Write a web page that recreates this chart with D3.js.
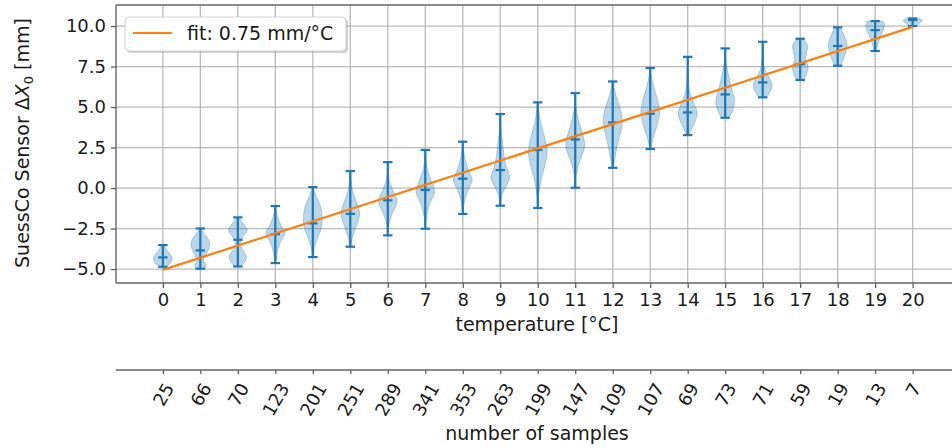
<!DOCTYPE html>
<html>
<head>
<meta charset="utf-8">
<script src="https://cdn.jsdelivr.net/npm/d3@7"></script>
<style>
  body { margin: 0; background: #fff; }
  text { font-family: "DejaVu Sans", sans-serif; fill: #1a1a1a; }
</style>
</head>
<body>
<svg id="chart"></svg>
<script>
// temperatures (x positions) and number of samples per temperature
var temps = [0,1,2,3,4,5,6,7,8,9,10,11,12,13,14,15,16,17,18,19,20];
var sampleCounts = [25,66,70,123,201,251,289,341,353,263,199,147,109,107,69,73,71,59,19,13,7];

// violin extremes and medians (mm)
var minVals = [-4.86,-4.98,-4.84,-4.63,-4.26,-3.62,-2.92,-2.51,-1.60,-1.09,-1.23,0.02,1.25,2.41,3.27,4.34,5.60,6.67,7.55,8.46,10.00];
var maxVals = [-3.52,-2.49,-1.81,-1.11,0.06,1.05,1.60,2.35,2.86,4.57,5.29,5.86,6.58,7.41,8.10,8.62,9.03,9.22,9.92,10.31,10.47];
var medVals = [-4.28,-3.85,-3.19,-2.84,-2.18,-1.59,-0.76,-0.12,0.58,1.11,2.35,3.00,4.05,4.59,4.67,5.78,6.52,7.65,8.77,9.75,10.37];

// relative density profile of each violin: [value, density 0..1]
var profiles = [
  [[-4.86,0.3],[-4.7,0.7],[-4.4,1],[-4.1,0.8],[-3.8,0.4],[-3.52,0.1]],
  [[-4.98,0.5],[-4.75,0.6],[-4.45,0.35],[-4.0,0.7],[-3.5,1],[-3.1,0.8],[-2.8,0.4],[-2.49,0.1]],
  [[-4.84,0.35],[-4.5,0.8],[-4.2,0.9],[-3.8,0.5],[-3.4,0.25],[-3.0,0.55],[-2.6,1],[-2.2,0.6],[-1.81,0.1]],
  [[-4.63,0.05],[-4.0,0.2],[-3.4,0.5],[-2.8,1],[-2.3,0.6],[-1.7,0.2],[-1.11,0.05]],
  [[-4.26,0.05],[-3.6,0.2],[-3.0,0.55],[-2.5,0.9],[-1.8,1],[-1.0,0.75],[-0.5,0.35],[0.06,0.05]],
  [[-3.62,0.05],[-3.0,0.25],[-2.4,0.6],[-1.6,1],[-0.8,0.6],[-0.2,0.25],[0.5,0.08],[1.05,0.03]],
  [[-2.92,0.03],[-2.2,0.15],[-1.6,0.45],[-0.8,1],[-0.2,0.6],[0.4,0.2],[1.0,0.05],[1.6,0.02]],
  [[-2.51,0.03],[-1.8,0.12],[-1.0,0.45],[-0.2,1],[0.5,0.6],[1.2,0.2],[1.8,0.06],[2.35,0.02]],
  [[-1.6,0.03],[-0.9,0.15],[-0.2,0.5],[0.5,1],[1.1,0.6],[1.8,0.25],[2.4,0.07],[2.86,0.02]],
  [[-1.09,0.03],[-0.4,0.2],[0.3,0.8],[0.7,1],[1.3,0.65],[2.0,0.4],[2.8,0.25],[3.5,0.1],[4.57,0.02]],
  [[-1.23,0.02],[-0.5,0.08],[0.5,0.35],[1.5,0.8],[2.3,1],[3.2,0.7],[4.2,0.25],[5.29,0.03]],
  [[0.02,0.02],[0.8,0.1],[1.6,0.45],[2.6,1],[3.3,0.8],[4.2,0.35],[5.0,0.08],[5.86,0.02]],
  [[1.25,0.05],[1.9,0.25],[2.8,0.55],[3.6,0.9],[4.3,1],[5.0,0.75],[5.8,0.3],[6.58,0.05]],
  [[2.41,0.05],[3.1,0.3],[3.8,0.7],[4.6,1],[5.4,0.8],[6.3,0.35],[7.0,0.1],[7.41,0.03]],
  [[3.27,0.1],[3.7,0.45],[4.2,0.85],[4.7,1],[5.3,0.6],[6.0,0.2],[7.0,0.05],[8.1,0.02]],
  [[4.34,0.4],[4.8,0.8],[5.4,1],[6.0,0.75],[6.7,0.45],[7.4,0.2],[8.0,0.05],[8.62,0.02]],
  [[5.6,0.4],[6.0,0.85],[6.4,1],[6.8,0.7],[7.3,0.25],[8.0,0.08],[9.03,0.03]],
  [[6.67,0.4],[7.1,0.7],[7.5,0.85],[7.9,0.6],[8.4,0.7],[8.8,0.8],[9.22,0.3]],
  [[7.55,0.3],[8.0,0.65],[8.5,0.9],[8.9,1],[9.4,0.7],[9.92,0.3]],
  [[8.46,0.1],[8.9,0.3],[9.4,0.6],[9.8,0.9],[10.1,1],[10.31,0.8]],
  [[10.0,0.3],[10.2,0.8],[10.35,1],[10.47,0.6]]
];

// linear fit, 0.75 mm/°C
var fitX = [0, 20];
var fitY = [-5.05, 9.95];
var fitLabel = 'fit: 0.75 mm/°C';

var yTicks = [-5, -2.5, 0, 2.5, 5, 7.5, 10];

var screen = { width: 952, height: 448 };
var plot = { left: 116, right: 952, top: 5, bottom: 283 };
var lowAxisY = 370;

var svg = d3.select('#chart')
  .attr('width', screen.width)
  .attr('height', screen.height);

var xScale = d3.scaleLinear().domain([-1.25, 21.05]).range([plot.left, plot.right]);
var yScale = d3.scaleLinear().domain([-5.86, 11.3]).range([plot.bottom, plot.top]);
var halfWidth = xScale(0.25) - xScale(0);   // violin widths = 0.5
var capHalf = xScale(0.125) - xScale(0);
var wScale = d3.scaleLinear().domain([0, 1]).range([0, halfWidth]);

var blue = '#1f77b4';
var orange = '#ff7f0e';

// grid
var grid = svg.append('g');
grid.selectAll('line.v').data(temps).enter().append('line')
  .attr('x1', d => xScale(d)).attr('x2', d => xScale(d))
  .attr('y1', plot.top).attr('y2', plot.bottom)
  .attr('stroke', '#b0b0b0').attr('stroke-width', 1.3).attr('opacity', 0.85);
grid.selectAll('line.h').data(yTicks).enter().append('line')
  .attr('x1', plot.left).attr('x2', plot.right)
  .attr('y1', d => yScale(d)).attr('y2', d => yScale(d))
  .attr('stroke', '#b0b0b0').attr('stroke-width', 1.3).attr('opacity', 0.85);

// violin bodies
var area = d3.area()
  .curve(d3.curveCatmullRom)
  .y(d => yScale(d[0]));

svg.append('g').selectAll('path').data(profiles).enter().append('path')
  .attr('d', function(p, i) {
    var cx = xScale(temps[i]);
    return area.x0(d => cx - wScale(d[1])).x1(d => cx + wScale(d[1]))(p);
  })
  .attr('fill', blue).attr('fill-opacity', 0.3)
  .attr('stroke', blue).attr('stroke-opacity', 0.3).attr('stroke-width', 1);

// bars, caps and medians
var lines = svg.append('g').attr('stroke', blue).attr('stroke-width', 2.2);
temps.forEach(function(t, i) {
  var cx = xScale(t);
  lines.append('line').attr('x1', cx).attr('x2', cx)
    .attr('y1', yScale(minVals[i])).attr('y2', yScale(maxVals[i]));
  [minVals[i], maxVals[i], medVals[i]].forEach(function(v) {
    lines.append('line').attr('x1', cx - capHalf).attr('x2', cx + capHalf)
      .attr('y1', yScale(v)).attr('y2', yScale(v));
  });
});

// fit line
svg.append('path')
  .datum(d3.zip(fitX, fitY))
  .attr('d', d3.line().x(d => xScale(d[0])).y(d => yScale(d[1])))
  .attr('fill', 'none').attr('stroke', orange).attr('stroke-width', 2.2);

// spines
svg.append('line').attr('x1', plot.left).attr('x2', plot.right)
  .attr('y1', plot.top).attr('y2', plot.top).attr('stroke', '#666').attr('stroke-width', 1.4);

// axes
var yAxis = d3.axisLeft(yScale).tickValues(yTicks).tickFormat(d3.format('.1f'))
  .tickSize(5).tickPadding(5);
var gy = svg.append('g').attr('transform', 'translate(' + plot.left + ',0)').call(yAxis);

var xAxis = d3.axisBottom(xScale).tickValues(temps).tickFormat(d3.format('d'))
  .tickSize(5).tickPadding(5);
var gx = svg.append('g').attr('transform', 'translate(0,' + plot.bottom + ')').call(xAxis);

var nAxis = d3.axisBottom(xScale).tickValues(temps).tickFormat((d, i) => sampleCounts[i])
  .tickSize(4).tickPadding(0);
var gn = svg.append('g').attr('transform', 'translate(0,' + lowAxisY + ')').call(nAxis);

[gx, gy, gn].forEach(function(g) {
  g.select('.domain').attr('stroke', '#666').attr('stroke-width', 1.4);
  g.selectAll('.tick line').attr('stroke', '#555').attr('stroke-width', 1.2);
  g.selectAll('.tick text').attr('font-size', 18).attr('font-family', '"DejaVu Sans", sans-serif')
    .attr('fill', '#1a1a1a');
});
gy.select('.domain').attr('d', 'M0,' + plot.top + 'V' + plot.bottom);
gx.select('.domain').attr('d', 'M' + plot.left + ',0H' + plot.right);
gn.select('.domain').attr('d', 'M' + plot.left + ',0H' + plot.right);

// rotated sample-count labels, bbox centred on the tick
gn.selectAll('.tick text').each(function() {
  var t = d3.select(this);
  var w = this.getComputedTextLength();
  var a = 60 * Math.PI / 180;
  var h = w * Math.sin(a) + 18 * Math.cos(a);
  t.attr('y', null).attr('dy', null)
    .attr('text-anchor', 'middle').attr('dominant-baseline', 'central')
    .attr('transform', 'translate(0,' + (10 + h / 2) + ') rotate(-60)');
});

// axis labels
svg.append('text').attr('x', 537).attr('y', 331).attr('text-anchor', 'middle')
  .attr('font-size', 19).text('temperature [°C]');
svg.append('text').attr('x', 537).attr('y', 440).attr('text-anchor', 'middle')
  .attr('font-size', 19).text('number of samples');

var yl = svg.append('text').attr('transform', 'translate(29,143) rotate(-90)')
  .attr('text-anchor', 'middle').attr('font-size', 19);
yl.append('tspan').text('SuessCo Sensor \u0394');
yl.append('tspan').attr('font-style', 'italic').text('X');
yl.append('tspan').attr('font-size', 13).attr('dy', 4).text('0');
yl.append('tspan').attr('dy', -4).text(' [mm]');

// legend
var lg = svg.append('g');
lg.append('rect').attr('x', 127).attr('y', 19).attr('width', 221).attr('height', 34)
  .attr('rx', 4).attr('fill', '#999').attr('opacity', 0.45);
lg.append('rect').attr('x', 125).attr('y', 17).attr('width', 221).attr('height', 34)
  .attr('rx', 4).attr('fill', '#fff').attr('stroke', '#d0d0d0').attr('stroke-width', 1);
lg.append('line').attr('x1', 133).attr('x2', 172).attr('y1', 33).attr('y2', 33)
  .attr('stroke', orange).attr('stroke-width', 2.2);
lg.append('text').attr('x', 187).attr('y', 40).attr('font-size', 19).text(fitLabel);
</script>
</body>
</html>
